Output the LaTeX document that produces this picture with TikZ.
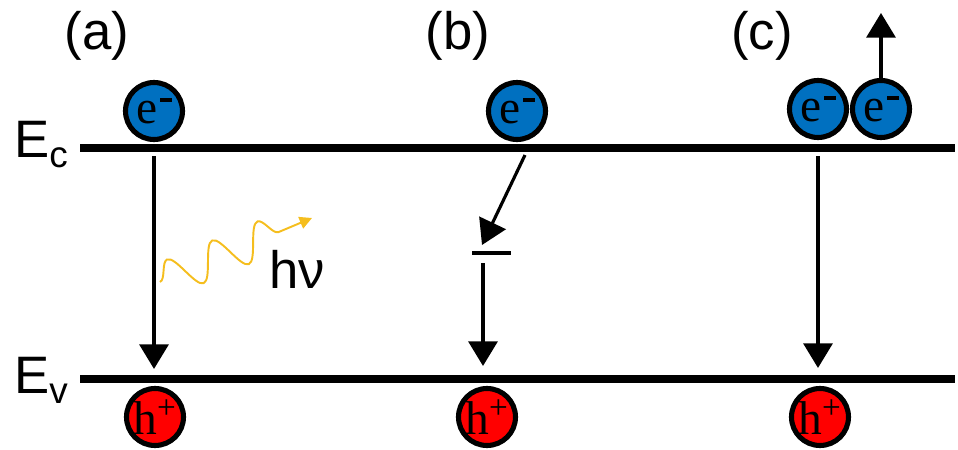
\documentclass[tikz,border=0pt]{standalone}
\usepackage{fontspec}
\setmainfont{Liberation Sans}
\newfontfamily\carrierfont{Liberation Serif}
\usepackage{tikz}
\usetikzlibrary{arrows.meta,decorations.pathmorphing}

\definecolor{elecblue}{RGB}{0,112,192}
\definecolor{holered}{RGB}{255,0,0}
\definecolor{photonyellow}{RGB}{245,190,30}

\newcommand{\elecsign}{\kern0.06em\raisebox{0.45em}{\rule{0.25em}{0.09em}}}
\newcommand{\bandsub}[1]{\raisebox{-0.2em}{\fontsize{21}{21}\selectfont #1}}

\tikzset{
  carrier/.style={circle,draw=black,line width=2.9pt,minimum size=1.14cm,inner sep=0pt,
    font=\carrierfont\fontsize{27}{27}\selectfont},
  electron/.style={carrier,fill=elecblue},
  hole/.style={carrier,fill=holered},
  band/.style={line width=4.5pt},
  jump/.style={line width=1.8pt,-{Triangle[width=16.5pt,length=14pt]}},
  lbl/.style={font=\fontsize{30}{30}\selectfont}
}

\begin{document}
\begin{tikzpicture}[x=0.02cm,y=-0.02cm]
        \useasboundingbox (0,0) rectangle (958,450);
        % bands
        \draw[band] (80,148) -- (955,148);
        \draw[band] (80,379) -- (955,379);
        \node[lbl,anchor=base west] (Ec) at (8,157) {E\bandsub{c}};
        \node[lbl,anchor=base west] (Ev) at (8,393) {E\bandsub{v}};
        \node[lbl] (la) at (97,36) {(a)};
        \node[lbl] (lb) at (458,36) {(b)};
        \node[lbl] (lc) at (762,36) {(c)};
        % carriers
        \node[electron] (ea) at (154,111) {e\elecsign};
        \node[electron] (eb) at (517,111) {e\elecsign};
        \node[electron] (ec1) at (818,109) {e\elecsign};
        \node[electron] (ec2) at (881,109) {e\elecsign};
        \node[hole] (ha) at (155,417) {h\textsuperscript{+}};
        \node[hole] (hb) at (487,417) {h\textsuperscript{+}};
        \node[hole] (hc) at (820,417) {h\textsuperscript{+}};
        % (a) radiative
        \draw[jump,shorten <=0.28cm,shorten >=0.34cm] (ea.south) -- (ea.south |- ha.north);
        \coordinate (photon start) at (160,282);
        \coordinate (photon end) at (312,218);
        \draw[photonyellow,line width=1.1pt,-{Triangle[width=7pt,length=7pt]},decorate,
              decoration={snake,amplitude=0.36cm,segment length=0.98cm,post length=0.5cm}]
              (photon start) -- (photon end);
        \node[lbl,anchor=base] (hnu) at (297,288) {hν};
        % (b) trap assisted
        \coordinate (trap) at (491.5,253);
        \draw[line width=2.3pt] ([xshift=-0.39cm]trap) -- ([xshift=0.39cm]trap);
        \coordinate (capt start) at (525,155);
        \coordinate (capt end) at (482,245);
        \draw[jump] (capt start) -- (capt end);
        \coordinate (trap drop) at (483,263);
        \draw[jump,shorten >=0.4cm] (trap drop) -- (trap drop |- hb.north);
        % (c) auger
        \draw[jump,shorten <=0.32cm,shorten >=0.36cm] (ec1.south) -- (ec1.south |- hc.north);
        \coordinate (escape) at (881,13);
        \draw[jump] (ec2.north) -- (escape);
\end{tikzpicture}
\end{document}
